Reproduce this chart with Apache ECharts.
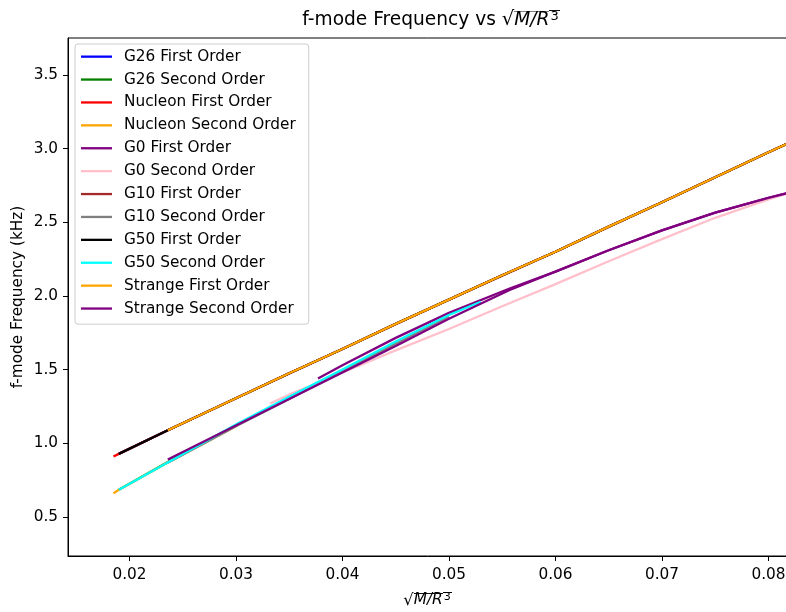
<!DOCTYPE html>
<html><head><meta charset="utf-8">
<script src="https://cdn.jsdelivr.net/npm/echarts@6/dist/echarts.min.js"></script>
<style>html,body{margin:0;padding:0;background:#fff}#c{width:786px;height:612px}</style>
</head><body><div id="c"></div>
<script>
// ---- data ----
const seriesNames = ['G26 First Order','G26 Second Order','Nucleon First Order','Nucleon Second Order','G0 First Order','G0 Second Order','G10 First Order','G10 Second Order','G50 First Order','G50 Second Order','Strange First Order','Strange Second Order'];
const seriesColors = ['#0000ff','#008000','#ff0000','#ffa500','#800080','#ffc0cb','#a52a2a','#808080','#000000','#00ffff','#ffa500','#800080'];

const xTicks = [0.02, 0.03, 0.04, 0.05, 0.06, 0.07, 0.08];
const yTicks = [0.5, 1.0, 1.5, 2.0, 2.5, 3.0, 3.5];

const g26FirstX = [0.019, 0.0236, 0.03, 0.035, 0.04, 0.045, 0.05, 0.055, 0.06, 0.065, 0.07, 0.075, 0.08, 0.0822];
const g26FirstY = [0.928, 1.088, 1.305, 1.475, 1.64, 1.81, 1.975, 2.14, 2.30, 2.47, 2.635, 2.805, 2.975, 3.048];
const g26SecondX = [0.019, 0.0236, 0.03, 0.035, 0.04, 0.045];
const g26SecondY = [0.685, 0.872, 1.122, 1.305, 1.49, 1.675];
const nucleonFirstX = [0.0185, 0.019, 0.0236, 0.03, 0.035, 0.04, 0.045, 0.05, 0.055, 0.06, 0.065, 0.07, 0.075, 0.08, 0.0822];
const nucleonFirstY = [0.91, 0.928, 1.088, 1.305, 1.475, 1.64, 1.81, 1.975, 2.14, 2.30, 2.47, 2.635, 2.805, 2.975, 3.048];
const nucleonSecondX = [0.0185, 0.019, 0.0236, 0.03];
const nucleonSecondY = [0.66, 0.685, 0.87, 1.115];
const g0FirstX = [0.0377, 0.04, 0.045, 0.05, 0.0557, 0.06, 0.065, 0.07, 0.075, 0.08, 0.0822];
const g0FirstY = [1.44, 1.53, 1.715, 1.885, 2.05, 2.165, 2.31, 2.445, 2.565, 2.665, 2.705];
const g0SecondX = [0.0332, 0.035, 0.04, 0.045, 0.05, 0.055, 0.06, 0.065, 0.07, 0.075, 0.08, 0.0822];
const g0SecondY = [1.27, 1.33, 1.48, 1.63, 1.775, 1.93, 2.08, 2.235, 2.385, 2.53, 2.655, 2.705];
const g10FirstX = [0.019, 0.0236, 0.03, 0.04, 0.05, 0.06, 0.07, 0.08, 0.0822];
const g10FirstY = [0.928, 1.088, 1.305, 1.64, 1.975, 2.30, 2.635, 2.975, 3.048];
const g10SecondX = [0.0236, 0.03, 0.035, 0.04, 0.045, 0.05];
const g10SecondY = [0.868, 1.115, 1.30, 1.49, 1.675, 1.86];
const g50FirstX = [0.019, 0.0236, 0.03, 0.035, 0.04, 0.045, 0.05, 0.055, 0.06, 0.065, 0.07, 0.075, 0.08, 0.0822];
const g50FirstY = [0.928, 1.088, 1.305, 1.475, 1.64, 1.81, 1.975, 2.14, 2.30, 2.47, 2.635, 2.805, 2.975, 3.048];
const g50SecondX = [0.019, 0.0236, 0.03, 0.035, 0.04, 0.045, 0.05, 0.053];
const g50SecondY = [0.685, 0.87, 1.127, 1.315, 1.50, 1.69, 1.87, 1.96];
const strangeFirstX = [0.0236, 0.03, 0.035, 0.04, 0.045, 0.05, 0.055, 0.06, 0.065, 0.07, 0.075, 0.08, 0.0822];
const strangeFirstY = [1.088, 1.305, 1.475, 1.64, 1.81, 1.975, 2.14, 2.30, 2.47, 2.635, 2.805, 2.975, 3.048];
const strangeSecondX = [0.0236, 0.03, 0.035, 0.04, 0.045, 0.05, 0.0557, 0.06, 0.065, 0.07, 0.075, 0.08, 0.0822];
const strangeSecondY = [0.89, 1.12, 1.30, 1.48, 1.66, 1.845, 2.04, 2.165, 2.31, 2.445, 2.565, 2.665, 2.705];

const seriesX = [g26FirstX, g26SecondX, nucleonFirstX, nucleonSecondX, g0FirstX, g0SecondX, g10FirstX, g10SecondX, g50FirstX, g50SecondX, strangeFirstX, strangeSecondX];
const seriesY = [g26FirstY, g26SecondY, nucleonFirstY, nucleonSecondY, g0FirstY, g0SecondY, g10FirstY, g10SecondY, g50FirstY, g50SecondY, strangeFirstY, strangeSecondY];

// ---- overline helper (vinculum for the square root) ----
function overlineImg(h) {
  const c = document.createElement('canvas');
  c.width = 1; c.height = h;
  const ctx = c.getContext('2d');
  ctx.fillStyle = '#000';
  ctx.fillRect(0, 0, 1, 1);
  return c;
}
const FONT = "'DejaVu Sans', sans-serif";
const FS = 15.3;
function sqrtRich(fs) {
  const lh = Math.round(fs * 1.1);
  return {
    sq: { fontSize: fs + 1, fontFamily: FONT, color: '#000', lineHeight: lh },
    ov: { fontSize: fs, fontStyle: 'italic', fontFamily: FONT, color: '#000', lineHeight: lh, backgroundColor: { image: overlineImg(lh) } },
    sup: { fontSize: Math.round(fs * 0.7), fontFamily: FONT, color: '#000', lineHeight: Math.round(fs * 0.8), verticalAlign: 'top', backgroundColor: { image: overlineImg(Math.round(fs * 0.8)) }, padding: [0, 1, 0, 1] }
  };
}

const chart = echarts.init(document.getElementById('c'), null, { renderer: 'canvas' });
const option = {
  animation: false,
  backgroundColor: '#fff',
  title: {
    text: 'f-mode Frequency vs {sq|√}{ov|M/R}{sup|3}',
    left: 426, top: 5, textAlign: 'center',
    textStyle: { fontSize: 18.6, fontWeight: 'normal', color: '#000', fontFamily: FONT, rich: sqrtRich(18.6) }
  },
  grid: { left: 68, top: 38, width: 719, height: 518, outerBoundsMode: 'none', containLabel: false, show: true, borderColor: '#000', borderWidth: 1, backgroundColor: 'transparent' },
  legend: {
    orient: 'vertical', left: 75, top: 44,
    padding: [5, 13, 8, 6],
    icon: 'rect',
    itemWidth: 31, itemHeight: 2.3, itemGap: 7.6,
    backgroundColor: 'rgba(255,255,255,0.8)', borderColor: '#cccccc', borderWidth: 1, borderRadius: 3,
    textStyle: { fontFamily: FONT, fontSize: FS, color: '#000', lineHeight: 15.3, padding: [0, 0, 0, 7] },
    data: seriesNames
  },
  xAxis: {
    type: 'value', min: 0.01423, max: 0.08174,
    name: '{sq|√}{ov|M/R}{sup|3}', nameLocation: 'middle', nameGap: 36, nameMoveOverlap: false,
    nameTextStyle: { fontSize: FS, color: '#000', fontFamily: FONT, rich: sqrtRich(FS) },
    splitLine: { show: false },
    axisLine: { show: true, lineStyle: { color: '#000', width: 1 } },
    axisTick: { show: true, inside: false, length: 5, customValues: xTicks, lineStyle: { color: '#000', width: 1 } },
    axisLabel: { customValues: xTicks, margin: 12, fontSize: FS, color: '#000', fontFamily: FONT, formatter: v => v.toFixed(2) }
  },
  yAxis: {
    type: 'value', min: 0.235, max: 3.75,
    name: 'f-mode Frequency (kHz)', nameLocation: 'middle', nameGap: 42, nameMoveOverlap: false,
    nameTextStyle: { fontSize: FS, color: '#000', fontFamily: FONT },
    splitLine: { show: false },
    axisLine: { show: true, lineStyle: { color: '#000', width: 1 } },
    axisTick: { show: true, inside: false, length: 5, customValues: yTicks, lineStyle: { color: '#000', width: 1 } },
    axisLabel: { customValues: yTicks, margin: 10, fontSize: FS, color: '#000', fontFamily: FONT, formatter: v => v.toFixed(1) }
  },
  series: seriesNames.map((name, i) => ({
    name: name,
    type: 'line',
    symbol: 'none',
    showSymbol: false,
    clip: true,
    data: seriesX[i].map((x, j) => [x, seriesY[i][j]]),
    lineStyle: { color: seriesColors[i], width: 2.3 },
    itemStyle: { color: seriesColors[i] },
    emphasis: { disabled: true }
  }))
};
chart.setOption(option);
</script>
</body></html>
